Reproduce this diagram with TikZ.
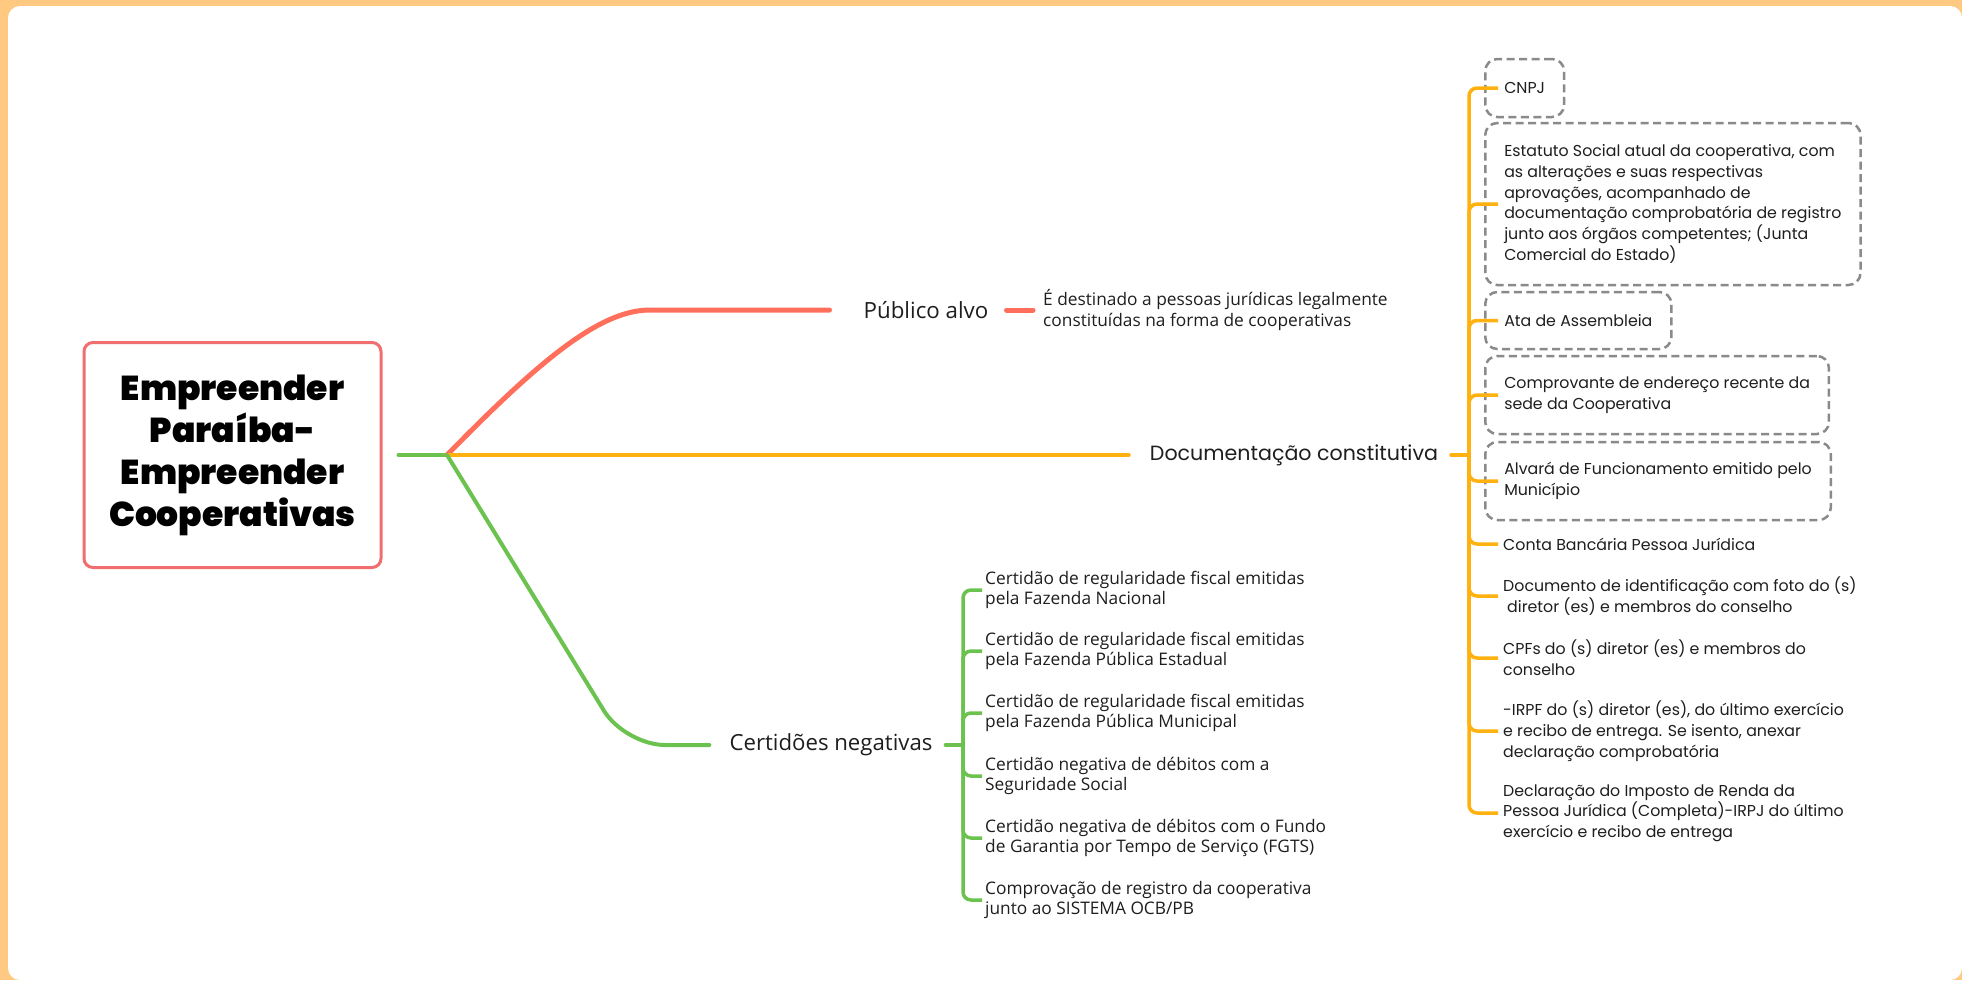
\documentclass[tikz,border=0pt]{standalone}
\usepackage{fontspec}
\setmainfont{Poppins}
\newfontfamily\osfont{Open Sans}
\IfFontExistsTF{Poppins Black}{\newfontfamily\rootfont{Poppins Black}}{%
  \IfFontExistsTF{Poppins ExtraBold}{\newfontfamily\rootfont{Poppins ExtraBold}}{%
    \newcommand\rootfont{\bfseries}}}
\definecolor{bgorange}{HTML}{FFC982}
\definecolor{cred}{HTML}{FF6F5C}
\definecolor{corange}{HTML}{FFB20F}
\definecolor{cgreen}{HTML}{6CC24F}
\definecolor{rootred}{HTML}{F06E6E}
\definecolor{dgray}{HTML}{8A8A8A}
\definecolor{ink}{HTML}{1E1E1E}
\begin{document}
\begin{tikzpicture}[x=1pt,y=-1pt,
  rootbox/.style={draw=rootred, line width=3pt, rounded corners=9pt,
    minimum width=297pt, minimum height=225pt, align=center, inner sep=0pt,
    text=black, font=\rootfont\fontsize{34.5}{42}\selectfont},
  toplab/.style={inner sep=0pt, text=ink},
  rline/.style={draw=cred, line width=5pt, line cap=round},
  oline/.style={draw=corange, line width=4pt, line cap=round},
  gline/.style={draw=cgreen, line width=4pt, line cap=round},
  obr/.style={draw=corange, line width=3.5pt, rounded corners=8pt},
  gbr/.style={draw=cgreen, line width=3.5pt, rounded corners=8pt},
  ditem/.style={anchor=west, align=left, inner xsep=19pt, inner ysep=0pt, text=ink,
    font=\fontsize{15.8}{20.7}\selectfont},
  dbox/.style={ditem, draw=dgray, line width=2.5pt, dash pattern=on 8pt off 4.5pt,
    rounded corners=12pt},
  citem/.style={anchor=west, align=left, inner xsep=3pt, inner ysep=0pt, text=ink,
    font=\osfont\fontsize{17.3}{20.7}\selectfont},
]
\useasboundingbox (0,0) rectangle (1962,980);
\fill[bgorange] (0,0) rectangle (1962,980);
\fill[white, rounded corners=12pt] (8,6) rectangle (1962,980);

% root
\node[rootbox] (root) at (232.5,455) {Empreender\\Paraíba-\\Empreender\\Cooperativas};
\coordinate (br) at (447,455);

% Publico alvo
\node[toplab, font=\osfont\fontsize{22.3}{26}\selectfont] (pub) at (926,310) {Público alvo};
\node[toplab, anchor=west, align=left, font=\osfont\fontsize{17.3}{20.7}\selectfont] (pubc) at (1043,310)
  {É destinado a pessoas jurídicas legalmente\\constituídas na forma de cooperativas};

% Documentacao
\node[toplab, font=\fontsize{20.6}{24}\selectfont] (doc) at (1294,455) {Documentação constitutiva};
\coordinate (dh) at (1469,455);
\node[dbox, minimum height=58pt] (d1) at (1484,88) {CNPJ};
\node[dbox, minimum height=162pt] (d2) at (1484,204) {Estatuto Social atual da cooperativa, com\\as alterações e suas respectivas\\aprovações, acompanhado de\\documentação comprobatória de registro\\junto aos órgãos competentes; (Junta\\Comercial do Estado)};
\node[dbox, minimum height=57pt] (d3) at (1484,320.5) {Ata de Assembleia};
\node[dbox, minimum height=78pt] (d4) at (1484,395) {Comprovante de endereço recente da\\sede da Cooperativa};
\node[dbox, minimum height=78pt] (d5) at (1484,481) {Alvará de Funcionamento emitido pelo\\Município};
\node[ditem] (d6) at (1484,544) {Conta Bancária Pessoa Jurídica};
\node[ditem] (d7) at (1484,596) {Documento de identificação com foto do (s)\\\hspace*{4pt}diretor (es) e membros do conselho};
\node[ditem] (d8) at (1484,658) {CPFs do (s) diretor (es) e membros do\\conselho};
\node[ditem] (d9) at (1484,731) {-IRPF do (s) diretor (es), do último exercício\\e recibo de entrega. Se isento, anexar\\declaração comprobatória};
\node[ditem] (d10) at (1484,813) {Declaração do Imposto de Renda da\\Pessoa Jurídica (Completa)-IRPJ do último\\exercício e recibo de entrega};

% Certidoes
\node[toplab, font=\osfont\fontsize{22.2}{26}\selectfont] (cert) at (831,745) {Certidões negativas};
\coordinate (ch) at (963,745);
\node[citem] (c1) at (982,590) {Certidão de regularidade fiscal emitidas\\pela Fazenda Nacional};
\node[citem] (c2) at (982,651) {Certidão de regularidade fiscal emitidas\\pela Fazenda Pública Estadual};
\node[citem] (c3) at (982,713) {Certidão de regularidade fiscal emitidas\\pela Fazenda Pública Municipal};
\node[citem] (c4) at (982,776) {Certidão negativa de débitos com a\\Seguridade Social};
\node[citem] (c5) at (982,838) {Certidão negativa de débitos com o Fundo\\de Garantia por Tempo de Serviço (FGTS)};
\node[citem] (c6) at (982,900) {Comprovação de registro da cooperativa\\junto ao SISTEMA OCB/PB};

% connectors
\draw[gline, shorten <=16pt] (root.east) -- (br);
\draw[rline, shorten >=34pt] (br) .. controls (540,360) and (600,310) .. (650,310) -- (pub.west);
\draw[rline, shorten <=18pt, shorten >=10pt] (pub.east) -- (pubc.west);
\draw[oline, shorten >=21pt] (br) -- (doc.west);
\draw[oline, shorten <=13pt] (doc.east) -- (dh);
\foreach \n in {d1,d2,d3,d4,d5,d6,d7,d8,d9,d10}
  \draw[obr] (dh) |- ([xshift=14pt]\n.west);
\draw[gline, rounded corners=40pt, shorten >=20pt] (br) -- (625,745) -- (cert.west);
\draw[gline, shorten <=13pt] (cert.east) -- (ch);
\foreach \n in {c1,c2,c3,c4,c5,c6}
  \draw[gbr] (ch) |- (\n.west);
\end{tikzpicture}
\end{document}
